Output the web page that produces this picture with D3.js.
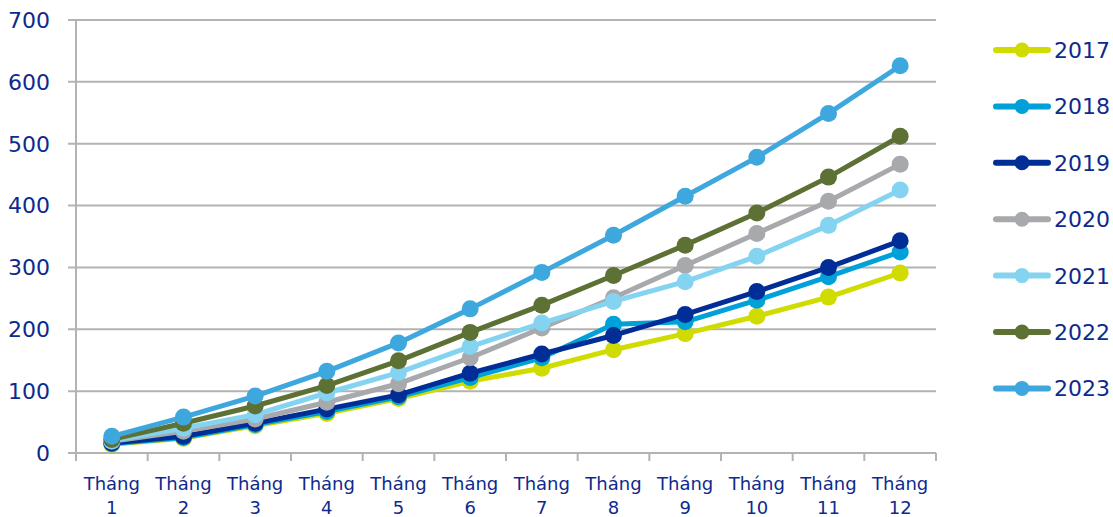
<!DOCTYPE html>
<html><head><meta charset="utf-8">
<script src="https://cdn.jsdelivr.net/npm/d3@7"></script>
<style>body{margin:0;background:#fff;} svg{display:block;font-family:"DejaVu Sans",sans-serif;}</style>
</head><body><svg id="c" width="1113" height="517"></svg>
<script>
const months = ["Tháng 1","Tháng 2","Tháng 3","Tháng 4","Tháng 5","Tháng 6","Tháng 7","Tháng 8","Tháng 9","Tháng 10","Tháng 11","Tháng 12"];
const years = ["2017","2018","2019","2020","2021","2022","2023"];
const colors = ["#d0dc00","#00a0d8","#002d96","#a7a9ac","#84d4f1","#5e7134","#3ea8de"];
const yTicks = [0,100,200,300,400,500,600,700];
const v2017 = [14,24,44,64,88,116,137,167,193,221,252,291];
const v2018 = [15,25,46,67,91,122,154,208,212,247,285,325];
const v2019 = [16,27,48,71,94,129,160,190,224,261,300,343];
const v2020 = [19,35,55,82,112,154,202,251,303,355,407,467];
const v2021 = [20,40,62,97,130,172,210,245,277,318,368,425];
const v2022 = [22,48,76,109,149,195,239,287,336,388,446,512];
const v2023 = [27,58,92,132,178,233,292,352,415,478,549,626];
const seriesValues = [v2017,v2018,v2019,v2020,v2021,v2022,v2023];

const svg = d3.select("#c");
const mLeft = 76, mRight = 936, mTop = 20, mBottom = 453;
const x = d3.scaleBand().domain(months).range([mLeft, mRight]);
const y = d3.scaleLinear().domain([0,700]).range([mBottom, mTop]);
const txt = "#0e2a8c";

// gridlines
svg.append("g").selectAll("line").data(yTicks).join("line")
  .attr("x1", mLeft-8).attr("x2", mRight).attr("y1", d=>y(d)).attr("y2", d=>y(d))
  .attr("stroke","#b3b3b3").attr("stroke-width",2);
// y axis line
svg.append("line").attr("x1",mLeft).attr("x2",mLeft).attr("y1",mTop).attr("y2",mBottom+8)
  .attr("stroke","#b3b3b3").attr("stroke-width",2);
// x ticks at band boundaries
const bounds = months.map(m=>x(m)).concat([mRight]);
svg.append("g").selectAll("line").data(bounds.slice(1)).join("line")
  .attr("x1",d=>d).attr("x2",d=>d).attr("y1",mBottom).attr("y2",mBottom+8)
  .attr("stroke","#b3b3b3").attr("stroke-width",2);
// y labels
svg.append("g").selectAll("text").data(yTicks).join("text")
  .attr("x",50).attr("y",d=>y(d)).attr("dy","0.36em").attr("text-anchor","end")
  .attr("font-size",22).attr("fill",txt).text(d=>d);
// x labels
const xl = svg.append("g").selectAll("text").data(months).join("text")
  .attr("text-anchor","middle").attr("font-size",18).attr("fill",txt);
xl.each(function(d){
  const parts = d.split(" ");
  const cx = x(d)+x.bandwidth()/2;
  d3.select(this).append("tspan").attr("x",cx).attr("y",490).text(parts[0]);
  d3.select(this).append("tspan").attr("x",cx).attr("y",514).text(parts[1]);
});

// series
const line = d3.line().x((d,i)=>x(months[i])+x.bandwidth()/2).y(d=>y(d));
seriesValues.forEach((vals,si)=>{
  const g = svg.append("g");
  g.append("path").attr("d",line(vals)).attr("fill","none")
    .attr("stroke",colors[si]).attr("stroke-width",5).attr("stroke-linejoin","round");
  g.selectAll("circle").data(vals).join("circle")
    .attr("cx",(d,i)=>x(months[i])+x.bandwidth()/2).attr("cy",d=>y(d)).attr("r",8.5)
    .attr("fill",colors[si]);
});

// legend
const lg = svg.append("g");
years.forEach((yr,i)=>{
  const cy = 50 + i*56.4;
  lg.append("line").attr("x1",996).attr("x2",1048).attr("y1",cy).attr("y2",cy)
    .attr("stroke",colors[i]).attr("stroke-width",6).attr("stroke-linecap","round");
  lg.append("circle").attr("cx",1022).attr("cy",cy).attr("r",7.5).attr("fill",colors[i]);
  lg.append("text").attr("x",1054).attr("y",cy).attr("dy","0.36em")
    .attr("font-size",22).attr("fill",txt).text(yr);
});
</script></body></html>
